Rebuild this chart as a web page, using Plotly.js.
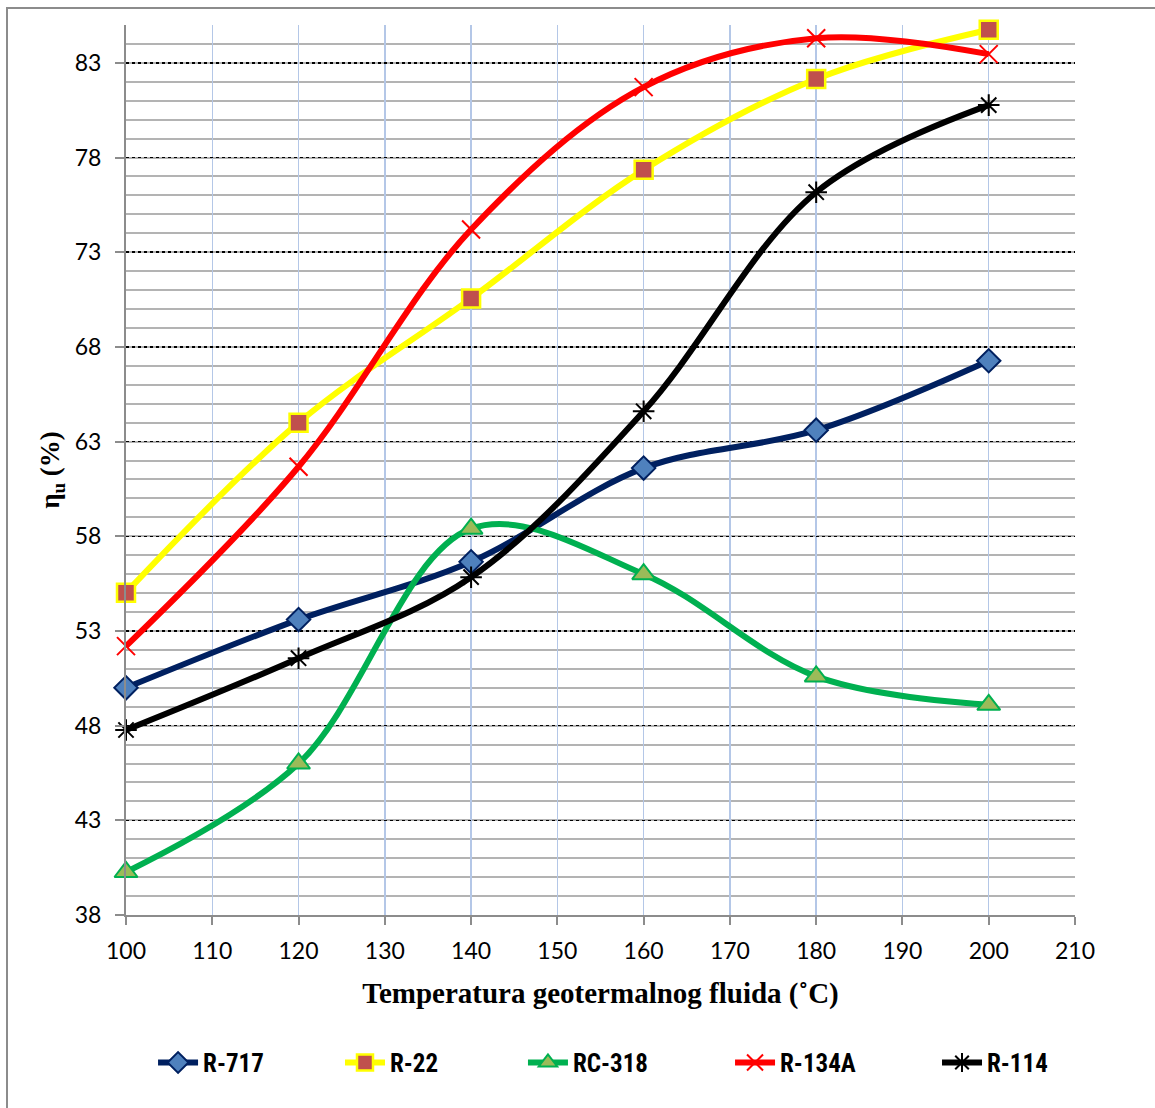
<!DOCTYPE html>
<html>
<head>
<meta charset="utf-8">
<script src="https://cdn.plot.ly/plotly-3.0.1.min.js"></script>
<style>
  html, body { margin: 0; padding: 0; background: #fff; }
  #chart { width: 1155px; height: 1108px; }
  #frame { position: absolute; left: 6px; top: 7px; width: 1200px; height: 1200px;
           border-left: 2px solid #8c8c8c; border-top: 2px solid #8c8c8c; pointer-events: none; }
</style>
</head>
<body>
<div id="chart"></div>
<div id="frame"></div>
<script>
// Temperatura geotermalnog fluida (°C)
const temperatures = [100, 120, 140, 160, 180, 200];

// η_u (%) per working fluid
const r717  = [50.0, 53.6, 56.65, 61.6, 63.6, 67.27];
const r22   = [55.02, 64.0, 70.56, 77.35, 82.15, 84.75];
const rc318 = [40.27, 46.0, 58.4, 56.0, 50.6, 49.1];
const r134a = [52.2, 61.67, 74.2, 81.72, 84.3, 83.46];
const r114  = [47.77, 51.56, 55.84, 64.6, 76.17, 80.77];

const seriesNames = ['R-717', 'R-22', 'RC-318', 'R-134A', 'R-114'];

const xTicks = [100, 110, 120, 130, 140, 150, 160, 170, 180, 190, 200, 210];
const yTicks = [38, 43, 48, 53, 58, 63, 68, 73, 78, 83];

function trace(name, y, legendId, lineColor, symbol, size, fill, outline, outW) {
  return {
    x: temperatures, y: y, name: name, type: 'scatter', mode: 'lines+markers',
    legend: legendId,
    cliponaxis: false,
    line: { color: lineColor, width: 6, shape: 'spline', smoothing: 1 },
    marker: { symbol: symbol, size: size, color: fill, line: { color: outline, width: outW } }
  };
}

const data = [
  trace(seriesNames[0], r717,  'legend',  '#002060', 'diamond', 18, '#4f81bd', '#002060', 2),
  trace(seriesNames[1], r22,   'legend2', '#ffff00', 'square', 18, '#c0504d', '#ffff00', 2.5),
  trace(seriesNames[2], rc318, 'legend3', '#00b050', 'triangle-up', 20, '#9bbb59', '#00b050', 2),
  trace(seriesNames[3], r134a, 'legend4', '#ff0000', 'x-thin-open', 18, '#ff0000', '#ff0000', 2),
  trace(seriesNames[4], r114,  'legend5', '#000000', 'asterisk-open', 18, '#000000', '#000000', 2)
];

const legendFont = { family: '"Liberation Sans Narrow", "Roboto Condensed", "Liberation Sans", Arial, sans-serif', size: 25, color: '#000', weight: 'bold' };
function legendAt(x) {
  return { orientation: 'h', x: x, xanchor: 'left', y: -0.166, yanchor: 'middle',
           font: legendFont, itemwidth: 40, bgcolor: 'rgba(0,0,0,0)' };
}

const layout = {
  width: 1155, height: 1108,
  margin: { l: 126, r: 80, t: 25, b: 193 },
  paper_bgcolor: '#ffffff', plot_bgcolor: '#ffffff',
  showlegend: true,
  legend:  legendAt(0.0285),
  legend2: legendAt(0.2255),
  legend3: legendAt(0.4183),
  legend4: legendAt(0.6365),
  legend5: legendAt(0.8546),
  xaxis: {
    range: [100, 210], tickvals: xTicks, ticktext: xTicks.map(String),
    showgrid: true, gridcolor: '#b4c7e7', gridwidth: 1.5,
    showline: true, linecolor: '#8c8c8c', linewidth: 2,
    ticks: 'outside', ticklen: 8, tickcolor: '#8c8c8c', tickwidth: 2,
    ticklabelstandoff: 6,
    tickfont: { family: 'Lato, "Open Sans", sans-serif', size: 23, color: '#000' },
    zeroline: false,
    title: { text: 'Temperatura geotermalnog fluida (˚C)', standoff: 20,
             font: { family: '"Liberation Serif", "Times New Roman", serif', size: 29, color: '#000', weight: 'bold' } }
  },
  yaxis: {
    range: [38, 85], tickvals: yTicks, ticktext: yTicks.map(String),
    showgrid: true, gridcolor: '#000000', gridwidth: 1.5, griddash: 'dot',
    minor: { dtick: 1, tick0: 38, showgrid: true, gridcolor: '#b3b3b3', gridwidth: 2, griddash: 'solid', ticks: '' },
    showline: true, linecolor: '#8c8c8c', linewidth: 2,
    ticks: 'outside', ticklen: 9, tickcolor: '#8c8c8c', tickwidth: 2,
    ticklabelstandoff: 9,
    tickfont: { family: 'Lato, "Open Sans", sans-serif', size: 23, color: '#000' },
    zeroline: false,
    title: { text: 'η<sub>u</sub> (%)', standoff: 7,
             font: { family: '"Liberation Serif", "Times New Roman", serif', size: 27, color: '#000', weight: 'bold' } }
  }
};

Plotly.newPlot('chart', data, layout, { displayModeBar: false, staticPlot: true });
</script>
</body>
</html>
